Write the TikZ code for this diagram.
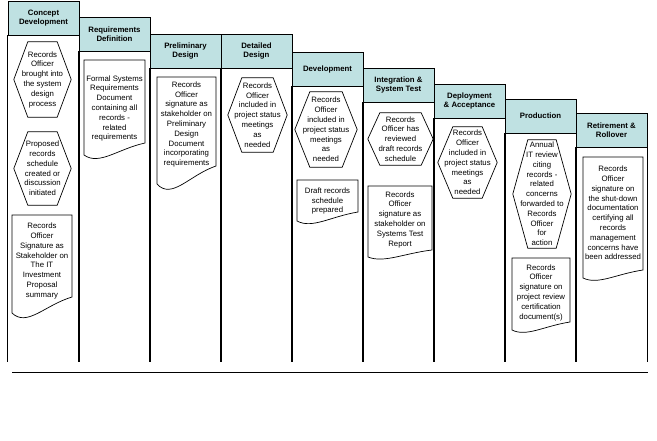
\documentclass[tikz,border=0pt]{standalone}
\usepackage{fontspec}
\setmainfont{Liberation Sans}
\definecolor{headfill}{RGB}{191,225,226}
\tikzset{
	phasehead/.style={draw, fill=headfill, line width=0.7pt, minimum width=71pt, minimum height=34pt, inner sep=0pt, align=center, font=\fontsize{7.8}{9.5}\selectfont\bfseries},
	phaseline/.style={line width=0.7pt},
	hexstep/.style={rectangle, inner sep=0pt, align=center, font=\fontsize{7.8}{9.8}\selectfont},
	doctext/.style={inner sep=0pt, align=center, font=\fontsize{7.8}{9.8}\selectfont},
	docline/.style={line width=0.7pt}
}
\newcommand{\hexpath}[2]{\draw[docline] ([xshift=#2pt]#1.north west) -- ([xshift=-#2pt]#1.north east) -- (#1.east) -- ([xshift=-#2pt]#1.south east) -- ([xshift=#2pt]#1.south west) -- (#1.west) -- cycle;}
\newcommand{\docpath}[5]{\draw[docline] (#1,#3) -- (#2,#3) -- (#2,#5) .. controls ({#1+0.55*(#2-#1)},{#5+0.5*(#4-#5)}) and ({#1+0.25*(#2-#1)},{#4+0.9*(#4-#5)}) .. (#1,#4) -- cycle;}

\begin{document}
\begin{tikzpicture}[x=1pt,y=-1pt]
	\useasboundingbox (0,0) rectangle (657,440);
	\coordinate (base) at (0,362);

	\foreach \n/\x/\y/\txt in {1/43.5/18/{Concept\\Development}, 2/114.5/34/{Requirements\\Definition}, 3/185.5/51/{Preliminary\\Design}, 4/256.5/51/{Detailed\\Design}, 5/327.5/69/{Development}, 6/398.5/85/{Integration \&\\System Test}, 7/469.5/101/{Deployment\\\& Acceptance}, 8/540.5/116/{Production}, 9/611.5/130/{Retirement \&\\Rollover}}{
		\node[phasehead] (h\n) at (\x,\y) {\txt};
		\draw[phaseline] (h\n.south west) -- (h\n.south west |- base);
		\draw[phaseline] (h\n.south east) -- (h\n.south east |- base);
	}

	\coordinate (rulestart) at (12,372);
	\coordinate (ruleend) at (648,372);
	\draw[phaseline] (rulestart) -- (ruleend);

	\node[hexstep, minimum width=57pt, minimum height=75pt] (concepta) at (42.5,79.5) {Records\\Officer\\brought into\\the system\\design\\process};
	\hexpath{concepta}{14}
	\node[hexstep, minimum width=57pt, minimum height=73pt] (conceptb) at (42.5,168.5) {Proposed\\records\\schedule\\created or\\discussion\\initiated};
	\hexpath{conceptb}{14}
	\docpath{12}{72}{215}{313}{297}
	\node[doctext] (conceptc) at (42,261) {Records\\Officer\\Signature as\\Stakeholder on\\The IT\\Investment\\Proposal\\summary};

	\docpath{84}{145}{60}{155}{143}
	\node[doctext] (reqa) at (114.5,108.5) {Formal Systems\\Requirements\\Document\\containing all\\records -\\related\\requirements};

	\docpath{157}{216}{77}{184}{166}
	\node[doctext] (prelima) at (186.5,124.5) {Records\\Officer\\signature as\\stakeholder on\\Preliminary\\Design\\Document\\incorporating\\requirements};

	\node[hexstep, minimum width=59pt, minimum height=74pt] (detaila) at (257.5,115) {Records\\Officer\\included in\\project status\\meetings\\as\\needed};
	\hexpath{detaila}{14}

	\node[hexstep, minimum width=62pt, minimum height=75pt] (devela) at (326,129.5) {Records\\Officer\\included in\\project status\\meetings\\as\\needed};
	\hexpath{devela}{15}
	\docpath{297}{358}{180}{221}{212}
	\node[doctext] (develb) at (327.5,201) {Draft records\\schedule\\prepared};

	\node[hexstep, minimum width=65pt, minimum height=52pt] (intega) at (400.5,139) {Records\\Officer has\\reviewed\\draft records\\schedule};
	\hexpath{intega}{12}
	\docpath{368}{432}{186}{257}{250}
	\node[doctext] (integb) at (400,219.5) {Records\\Officer\\signature as\\stakeholder on\\Systems Test\\Report};

	\node[hexstep, minimum width=59pt, minimum height=71pt] (deploya) at (467.5,162.5) {Records\\Officer\\included in\\project status\\meetings\\as\\needed};
	\hexpath{deploya}{15}

	\node[hexstep, minimum width=58pt, minimum height=108pt] (proda) at (542,194) {Annual\\IT review\\citing\\records -\\related\\concerns\\forwarded to\\Records\\Officer\\for\\action};
	\hexpath{proda}{15}
	\docpath{512}{570}{258}{330}{322}
	\node[doctext] (prodb) at (541,292.5) {Records\\Officer\\signature on\\project review\\certification\\document(s)};

	\docpath{583}{643}{157}{278}{270}
	\node[doctext] (retira) at (613,213) {Records\\Officer\\signature on\\the shut-down\\documentation\\certifying all\\records\\management\\concerns have\\been addressed};
\end{tikzpicture}
\end{document}
